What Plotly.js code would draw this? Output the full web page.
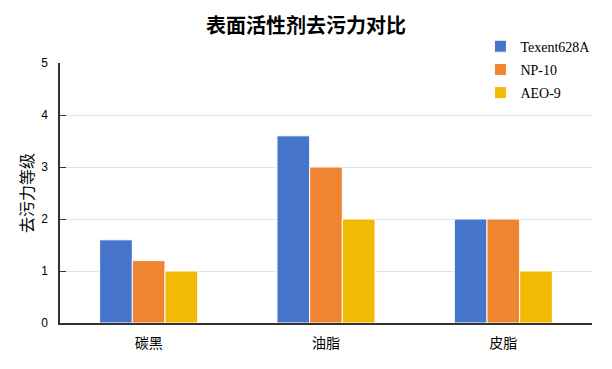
<!DOCTYPE html>
<html><head><meta charset="utf-8">
<script src="https://cdn.plot.ly/plotly-3.0.1.min.js"></script>
<style>html,body{margin:0;padding:0;background:#fff}</style>
</head><body>
<div id="chart" style="width:612px;height:369px"></div>
<script>
var categories = ["碳黑", "油脂", "皮脂"];
var seriesNames = ["Texent628A", "NP-10", "AEO-9"];
var texent = [1.6, 3.6, 2.0];
var np10 = [1.2, 3.0, 2.0];
var aeo9 = [1.0, 2.0, 1.0];
var colors = ["#4774CB", "#EF8531", "#F2BA02"];
var values = [texent, np10, aeo9];

var traces = values.map(function(v, i){
  return {type:"bar", x:categories, y:v, name:seriesNames[i], legendgroup:"g"+i,
    marker:{color:colors[i], line:{color:"#ffffff", width:1}}};
});
var layout = {
  width:612, height:369,
  margin:{l:60, r:20, t:63, b:46, autoexpand:false},
  paper_bgcolor:"#fff", plot_bgcolor:"#fff",
  title:{text:"表面活性剂去污力对比", x:0.5, xanchor:"center", y:0.93, yanchor:"middle",
    font:{family:"Noto Sans CJK SC", size:20, color:"#000", weight:"bold"}},
  barmode:"group", bargap:0.447, bargroupgap:0,
  xaxis:{showline:true, linecolor:"#333", linewidth:1.5, ticks:"", showgrid:false,
    ticklabelstandoff:6,
    tickfont:{family:"Noto Sans CJK SC", size:14, color:"#000"}},
  yaxis:{range:[0,5], dtick:1, showline:true, linecolor:"#333", linewidth:1.5,
    ticks:"inside", ticklen:6, tickcolor:"#333", gridcolor:"#e3e3e3", zeroline:false,
    ticklabelstandoff:8,
    tickfont:{family:"Liberation Sans Narrow, Liberation Sans", size:12, color:"#000"},
    title:{text:"去污力等级", standoff:4, font:{family:"Noto Sans CJK SC", size:16, color:"#000"}}},
  legend:{xref:"container", yref:"container", x:0.785, y:0.917, xanchor:"left", yanchor:"top",
    bgcolor:"rgba(0,0,0,0)",
    font:{family:"Liberation Serif", size:14, color:"#000"}, tracegroupgap:2, itemwidth:30},
  showlegend:true
};
Plotly.newPlot("chart", traces, layout, {displayModeBar:false});
</script>
</body></html>
